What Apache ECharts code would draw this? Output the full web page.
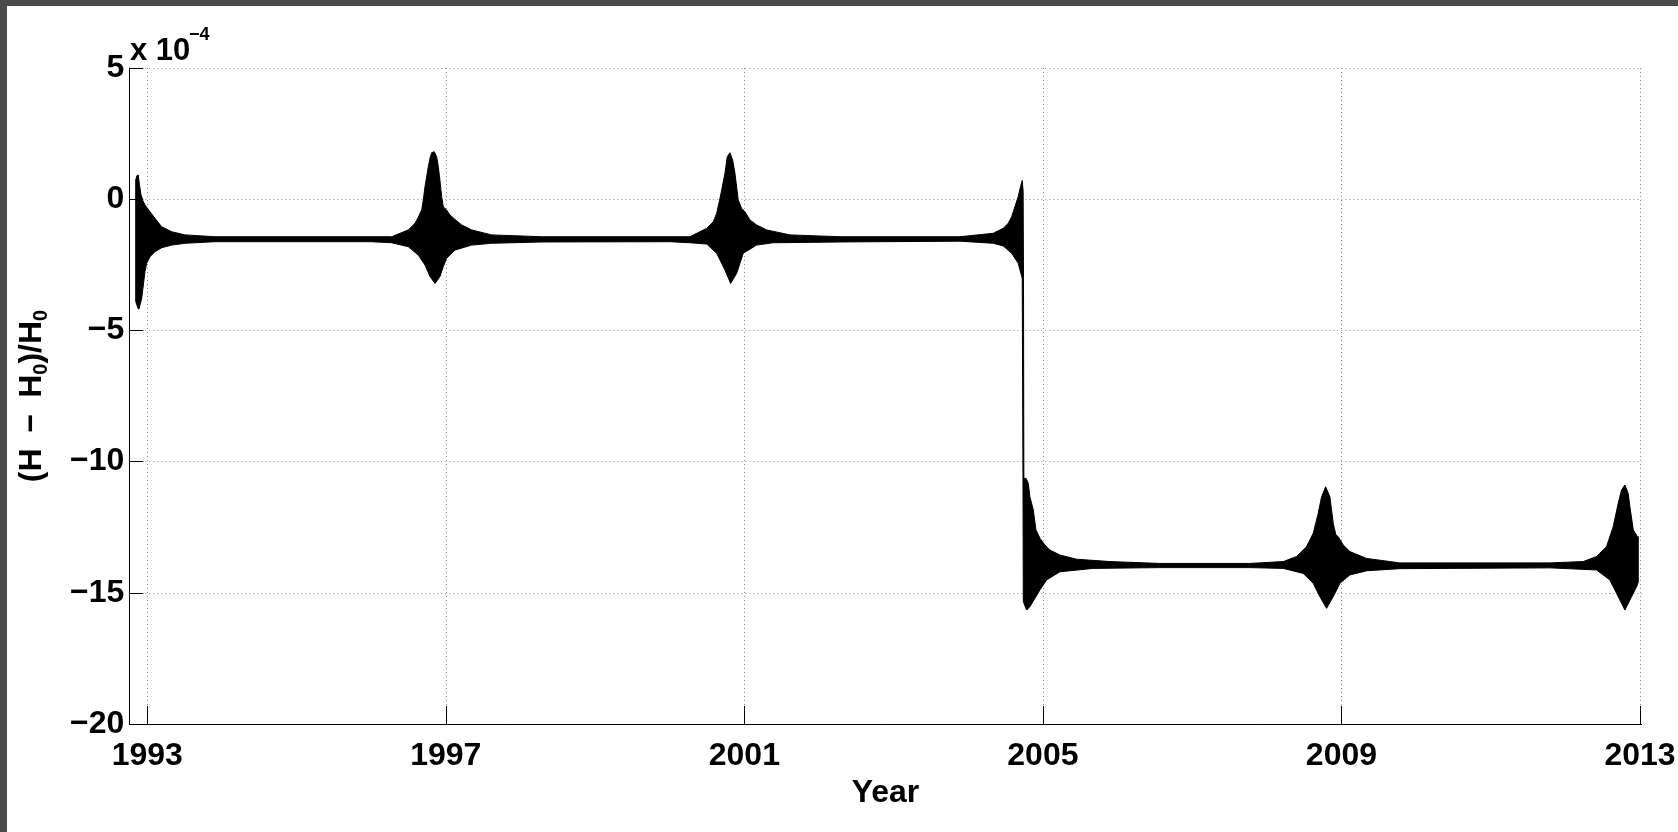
<!DOCTYPE html>
<html>
<head>
<meta charset="utf-8">
<title>(H - H0)/H0</title>
<script src="https://cdn.jsdelivr.net/npm/echarts@6/dist/echarts.min.js"></script>
<style>
  html, body { margin: 0; padding: 0; width: 100%; height: 100%; background: #4b4b4b; overflow: hidden; }
  #main { position: absolute; left: 7px; top: 6px; width: 1671px; height: 826px; background: #fff; }
</style>
</head>
<body>
<div id="main"></div>
<script>
// envelope of the (H - H0)/H0 signal, values in units of 1e-4
const upperYear = [1992.845, 1992.862, 1992.879, 1992.895, 1992.916, 1992.94, 1992.969, 1993.036, 1993.103, 1993.193,
  1993.327, 1993.505, 1993.907, 1995.5, 1996.274, 1996.497, 1996.587, 1996.631, 1996.676, 1996.698,
  1996.721, 1996.743, 1996.765, 1996.788, 1996.81, 1996.845, 1996.877, 1996.899, 1996.921, 1996.944,
  1996.966, 1997.011, 1997.055, 1997.122, 1997.212, 1997.346, 1997.614, 1998.284, 2000.271, 2000.495,
  2000.583, 2000.629, 2000.673, 2000.696, 2000.74, 2000.771, 2000.807, 2000.843, 2000.874, 2000.918,
  2000.963, 2001.008, 2001.075, 2001.164, 2001.298, 2001.611, 2002.281, 2003.888, 2004.334, 2004.468,
  2004.535, 2004.581, 2004.625, 2004.669, 2004.701, 2004.723, 2004.735, 2004.74, 2004.745, 2004.775,
  2004.804, 2004.826, 2004.871, 2004.907, 2004.96, 2005.027, 2005.094, 2005.228, 2005.452, 2005.898,
  2006.568, 2007.773, 2008.22, 2008.399, 2008.533, 2008.622, 2008.689, 2008.734, 2008.788, 2008.845,
  2008.89, 2008.926, 2008.957, 2009.024, 2009.113, 2009.337, 2009.783, 2011.793, 2012.239, 2012.418,
  2012.552, 2012.641, 2012.708, 2012.753, 2012.798, 2012.842, 2012.865, 2012.911, 2012.965, 2012.977];
const upperVal = [0.73, 0.90, 0.92, 0.55, 0.16, -0.05, -0.22, -0.48, -0.73, -1.05,
  -1.24, -1.36, -1.43, -1.43, -1.43, -1.17, -0.92, -0.69, -0.41, -0.03,
  0.48, 0.86, 1.24, 1.56, 1.77, 1.81, 1.62, 1.24, 0.73, 0.10,
  -0.29, -0.41, -0.60, -0.77, -0.98, -1.17, -1.36, -1.43, -1.43, -1.11,
  -0.86, -0.54, 0.03, 0.35, 0.99, 1.62, 1.77, 1.49, 0.99, -0.03,
  -0.35, -0.48, -0.79, -0.98, -1.17, -1.36, -1.43, -1.43, -1.30, -1.11,
  -0.92, -0.67, -0.29, 0.10, 0.48, 0.71, 0.30, -3.0, -10.64, -10.64,
  -10.83, -11.34, -11.84, -12.6, -12.92, -13.18, -13.37, -13.56, -13.72, -13.81,
  -13.88, -13.88, -13.81, -13.62, -13.24, -12.73, -11.97, -11.34, -10.96, -11.34,
  -12.35, -12.80, -12.86, -13.18, -13.43, -13.69, -13.86, -13.86, -13.81, -13.62,
  -13.24, -12.48, -11.59, -11.08, -10.89, -11.21, -11.72, -12.61, -12.86, -12.86];

const lowerYear = [1992.845, 1992.879, 1992.889, 1992.925, 1992.969, 1992.992, 1993.036, 1993.103, 1993.193, 1993.327,
  1993.505, 1993.907, 1996.0, 1996.274, 1996.497, 1996.631, 1996.721, 1996.788, 1996.855, 1996.921,
  1996.966, 1997.011, 1997.122, 1997.346, 1997.614, 1998.284, 2000.0, 2000.271, 2000.495, 2000.629,
  2000.74, 2000.816, 2000.896, 2000.985, 2001.164, 2001.387, 2002.281, 2003.888, 2004.334, 2004.468,
  2004.581, 2004.669, 2004.723, 2004.733, 2004.737, 2004.746, 2004.782, 2004.826, 2004.893, 2004.96,
  2005.05, 2005.228, 2005.674, 2006.568, 2007.773, 2008.22, 2008.488, 2008.622, 2008.711, 2008.801,
  2008.89, 2008.979, 2009.113, 2009.337, 2009.783, 2011.793, 2012.418, 2012.596, 2012.686, 2012.798,
  2012.887, 2012.954, 2012.977];
const lowerVal = [-3.9, -4.18, -4.18, -3.78, -2.76, -2.44, -2.19, -2.0, -1.85, -1.75,
  -1.68, -1.62, -1.62, -1.66, -1.81, -2.13, -2.51, -2.95, -3.21, -2.95,
  -2.57, -2.25, -1.94, -1.75, -1.68, -1.63, -1.62, -1.66, -1.71, -2.06,
  -2.70, -3.21, -2.83, -2.06, -1.75, -1.66, -1.63, -1.60, -1.68, -1.78,
  -2.06, -2.44, -3.02, -10.7, -15.3, -15.40, -15.66, -15.53, -15.21, -14.89,
  -14.51, -14.20, -14.07, -14.04, -14.04, -14.07, -14.26, -14.64, -15.15, -15.59,
  -15.15, -14.64, -14.32, -14.16, -14.08, -14.05, -14.13, -14.51, -15.02, -15.66,
  -15.15, -14.77, -14.6];

const yearTicks = [1993, 1997, 2001, 2005, 2009, 2013];

const FONT = '"Liberation Sans", Arial, sans-serif';

const chart = echarts.init(document.getElementById('main'));

const option = {
  animation: false,
  backgroundColor: '#fff',
  grid: { left: 122.3, right: 36.3, top: 62, bottom: 108, containLabel: false, outerBoundsMode: 'none' },
  graphic: [
    {
      type: 'text', left: 123, top: 30,
      style: { text: 'x 10', fill: '#000', font: 'bold 31px ' + FONT }
    },
    {
      type: 'text', left: 182, top: 20,
      style: { text: '\u22124', fill: '#000', font: 'bold 18px ' + FONT }
    }
  ],
  xAxis: {
    type: 'value',
    min: 1992.759,
    max: 2013.023,
    name: 'Year',
    nameLocation: 'middle',
    nameGap: 47,
    nameTextStyle: { color: '#000', fontFamily: FONT, fontWeight: 'bold', fontSize: 32 },
    axisLine: { show: true, onZero: false, lineStyle: { color: '#000', width: 1 } },
    axisTick: { show: true, inside: true, length: 18, customValues: yearTicks, lineStyle: { color: '#000' } },
    axisLabel: {
      customValues: yearTicks, margin: 16,
      color: '#000', fontFamily: FONT, fontWeight: 'bold', fontSize: 32,
      formatter: function (v) { return String(v); }
    },
    splitLine: { show: true, lineStyle: { color: '#8c8c8c', type: [1, 3], width: 1 } }
  },
  yAxis: {
    type: 'value',
    min: -20,
    max: 5,
    interval: 5,
    name: '(H\u2002\u2212\u2002H{s|0})/H{s|0}',
    nameLocation: 'middle',
    nameRotate: 90,
    nameGap: 78,
    nameTextStyle: {
      color: '#000', fontFamily: FONT, fontWeight: 'bold', fontSize: 32, lineHeight: 38,
      rich: {
        s: { color: '#000', fontFamily: FONT, fontWeight: 'bold', fontSize: 20, lineHeight: 18, verticalAlign: 'bottom' }
      }
    },
    axisLine: { show: true, lineStyle: { color: '#000', width: 1 } },
    axisTick: { show: true, inside: true, length: 14, lineStyle: { color: '#000' } },
    axisLabel: {
      margin: 5, padding: [7, 0, 0, 0],
      color: '#000', fontFamily: FONT, fontWeight: 'bold', fontSize: 32,
      formatter: function (v) { return String(v).replace('-', '\u2212'); }
    },
    splitLine: { show: true, lineStyle: { color: '#8c8c8c', type: [1, 3], width: 1 } }
  },
  series: [
    {
      type: 'custom',
      name: 'envelope',
      clip: true,
      silent: true,
      data: [[upperYear[0], upperVal[0]]],
      renderItem: function (params, api) {
        const pts = [];
        for (let i = 0; i < upperYear.length; i++) {
          pts.push(api.coord([upperYear[i], upperVal[i]]));
        }
        for (let i = lowerYear.length - 1; i >= 0; i--) {
          pts.push(api.coord([lowerYear[i], lowerVal[i]]));
        }
        return {
          type: 'polygon',
          shape: { points: pts },
          style: { fill: '#000', stroke: '#000', lineWidth: 1 }
        };
      }
    }
  ]
};

chart.setOption(option);
window.addEventListener('resize', chart.resize);
</script>
</body>
</html>
